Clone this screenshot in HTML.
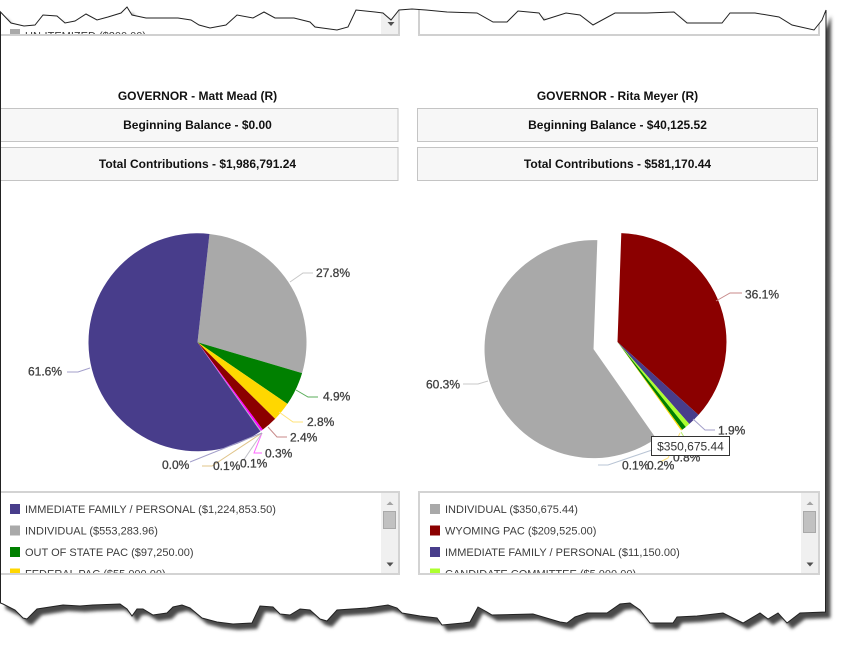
<!DOCTYPE html>
<html>
<head>
<meta charset="utf-8">
<style>
html,body{margin:0;padding:0;background:#fff;}
body{width:841px;height:648px;overflow:hidden;}
svg{display:block;font-family:"Liberation Sans",Arial,sans-serif;}
.t{font-size:12px;font-weight:bold;fill:#111;}
.lg{font-size:11px;fill:#3c3c3c;}
.pl{font-size:12px;fill:#404040;stroke:#404040;stroke-width:0.3px;}
</style>
</head>
<body>
<svg width="841" height="648" viewBox="0 0 841 648" xmlns="http://www.w3.org/2000/svg">
<defs>
<filter id="sh" x="-5%" y="-5%" width="110%" height="110%"><feGaussianBlur stdDeviation="1.6"/></filter>
<clipPath id="pg"><polygon id="pgp" points="0.5,12 11,23 24,26 35,25 43,15 57,16 65,23 75,21 86,14 97,20 108,17 121,13 127,7 132,15 146,18 162,18 178,18 191,20 199,25 210,28 226,25 237,15 253,18 264,12 275,18 294,18 310,22 315,27 337,30 348,27 356,10 375,12 383,13 391,20 399,10 412,9 426,10 447,12 477,13 493,22 507,22 518,11 539,13 544,20 566,13 580,15 593,25 615,13 647,13 674,12 687,23 722,23 730,13 755,13 779,17 792,25 814,30 822,20 826,10 825.5,612 800,613 787,623 778,613 768,619 760,613 743,623 723,613 697,616 677,617 673,623 650,623 640,610 630,603 620,604 607,613 587,613 575,617 567,623 560,622 533,614 492,615 487,612 478,607 470,622 463,623 442,625 437,618 420,616 402,613 397,608 388,605 367,608 337,610 327,621 320,619 310,610 300,609 290,615 280,614 273,607 260,606 252,623 233,624 217,622 202,618 190,608 182,605 173,607 167,613 153,615 143,609 137,609 132,616 127,609 120,604 93,605 80,606 63,605 37,609 27,619 23,618 15,610 3,604 0.5,603"/></clipPath>
<clipPath id="lb1"><rect x="0" y="493" width="398" height="80"/></clipPath>
<clipPath id="lb2"><rect x="420" y="493" width="398" height="80"/></clipPath>
<clipPath id="tb"><rect x="0" y="0" width="841" height="34"/></clipPath>
</defs>

<use href="#pgp" transform="translate(5,6)" fill="#4a4a4a" filter="url(#sh)"/>
<use href="#pgp" fill="#fff"/>

<g clip-path="url(#pg)">
  <g clip-path="url(#tb)">
    <rect x="10" y="29" width="10" height="10" fill="#a9a9a9"/>
    <text class="lg" x="25" y="39.5">UN-ITEMIZED ($200.00)</text>
  </g>
  <rect x="381" y="0" width="17" height="34" fill="#f0f0f0"/>
  <polygon points="387.5,22 394.5,22 391,26" fill="#505050"/>
  <path d="M0,35 H399 V0" fill="none" stroke="#d0d0d0" stroke-width="2"/>
  <path d="M419,0 V35 H819 V0" fill="none" stroke="#d0d0d0" stroke-width="2"/>

  <text class="t" x="197.5" y="100" text-anchor="middle">GOVERNOR - Matt Mead (R)</text>
  <text class="t" x="617.5" y="100" text-anchor="middle">GOVERNOR - Rita Meyer (R)</text>

  <rect x="-2" y="108.5" width="400" height="33" fill="#f7f7f7" stroke="#c4c4c4"/>
  <rect x="-2" y="147.5" width="400" height="33" fill="#f7f7f7" stroke="#c4c4c4"/>
  <rect x="417.5" y="108.5" width="400" height="33" fill="#f7f7f7" stroke="#c4c4c4"/>
  <rect x="417.5" y="147.5" width="400" height="33" fill="#f7f7f7" stroke="#c4c4c4"/>
  <text class="t" x="197.5" y="129" text-anchor="middle">Beginning Balance - $0.00</text>
  <text class="t" x="197.5" y="168" text-anchor="middle">Total Contributions - $1,986,791.24</text>
  <text class="t" x="617.5" y="129" text-anchor="middle">Beginning Balance - $40,125.52</text>
  <text class="t" x="617.5" y="168" text-anchor="middle">Total Contributions - $581,170.44</text>

  <!-- LEFT PIE -->
  <g>
    <path d="M197.5,342.3 L209.46,233.95 A109,109 0 0 1 302.07,373.07 Z" fill="#a9a9a9"/>
    <path d="M197.5,342.3 L302.07,373.07 A109,109 0 0 1 287.44,403.89 Z" fill="#008000"/>
    <path d="M197.5,342.3 L287.44,403.89 A109,109 0 0 1 275.11,418.84 Z" fill="#ffd700"/>
    <path d="M197.5,342.3 L275.11,418.84 A109,109 0 0 1 262.79,429.58 Z" fill="#8b0000"/>
    <path d="M197.5,342.3 L262.79,429.58 A109,109 0 0 1 261.10,430.82 Z" fill="#ff00ff"/>
    <path d="M197.5,342.3 L261.10,430.82 A109,109 0 0 1 260.33,431.36 Z" fill="#b0b8c8"/>
    <path d="M197.5,342.3 L260.33,431.36 A109,109 0 1 1 209.46,233.95 Z" fill="#483d8b"/>
  </g>
  <g fill="none" stroke-width="1">
    <polyline points="290,282 303,273 313,273" stroke="#c8c8c8"/>
    <polyline points="90,368 78,372 67,372" stroke="#a39fca"/>
    <polyline points="296,390 308,397 318,397" stroke="#5aad5a"/>
    <polyline points="279,412 293,422 303,422" stroke="#ffe37a"/>
    <polyline points="268,427 277,437 287,437" stroke="#c88a8a"/>
    <polyline points="262,433 254,453 262,453" stroke="#ff66ff"/>
    <polyline points="262,433 243,461" stroke="#c0c0c8"/>
    <polyline points="262,433 212,466 202,466" stroke="#e0c48a"/>
    <polyline points="262,433 190,462" stroke="#a39fca"/>
  </g>
  <text class="pl" x="316" y="277">27.8%</text>
  <text class="pl" x="28" y="375.5">61.6%</text>
  <text class="pl" x="323" y="400.5">4.9%</text>
  <text class="pl" x="307" y="426">2.8%</text>
  <text class="pl" x="290" y="441.5">2.4%</text>
  <text class="pl" x="265" y="457.5">0.3%</text>
  <text class="pl" x="162" y="469">0.0%</text>
  <text class="pl" x="213" y="470">0.1%</text>
  <text class="pl" x="240" y="467.5">0.1%</text>

  <!-- RIGHT PIE -->
  <g>
    <path d="M617.5,342 L621.30,233.07 A109,109 0 0 1 698.5,414.93 Z" fill="#8b0000"/>
    <path d="M617.5,342 L698.5,414.93 A109,109 0 0 1 689.30,424.01 Z" fill="#483d8b"/>
    <path d="M617.5,342 L689.30,424.01 A109,109 0 0 1 685.80,426.94 Z" fill="#adff2f"/>
    <path d="M617.5,342 L685.80,426.94 A109,109 0 0 1 682.18,429.73 Z" fill="#008000"/>
    <path d="M617.5,342 L682.18,429.73 A109,109 0 0 1 681.10,430.52 Z" fill="#ffd700"/>
    <path d="M593.53,349.10 L656.05,438.39 A109,109 0 1 1 597.33,240.17 Z" fill="#a9a9a9"/>
  </g>
  <g fill="none" stroke-width="1">
    <polyline points="716,301 730,293 742,293" stroke="#c88a8a"/>
    <polyline points="488,381 478,384 463,384" stroke="#c8c8c8"/>
    <polyline points="693,419 705,430 715,430" stroke="#a39fca"/>
    <polyline points="681,432 684,437 680,440" stroke="#b8f070"/>
    <polyline points="652,450 608,465 598,465" stroke="#b8c4d4"/>
    <polyline points="680,433 668,458 660,462" stroke="#ffe37a"/>
  </g>
  <text class="pl" x="745" y="298.5">36.1%</text>
  <text class="pl" x="426" y="388.5">60.3%</text>
  <text class="pl" x="718" y="434.5">1.9%</text>
  <text class="pl" x="622" y="469.5">0.1%</text>
  <text class="pl" x="647" y="469.5">0.2%</text>
  <text class="pl" x="673" y="461.5">0.8%</text>

  <rect x="651.5" y="436.5" width="78" height="19" fill="#fff" stroke="#333"/>
  <text x="690.5" y="450.5" text-anchor="middle" style="font-size:12px;fill:#333;">$350,675.44</text>

  <!-- LEFT LEGEND -->
  <rect x="-1" y="492" width="400" height="82" fill="#fff" stroke="#d3d3d3" stroke-width="2"/>
  <g clip-path="url(#lb1)">
    <rect x="10" y="504" width="10" height="10" fill="#483d8b"/>
    <text class="lg" x="25" y="513">IMMEDIATE FAMILY / PERSONAL ($1,224,853.50)</text>
    <rect x="10" y="525.5" width="10" height="10" fill="#a9a9a9"/>
    <text class="lg" x="25" y="534.5">INDIVIDUAL ($553,283.96)</text>
    <rect x="10" y="547" width="10" height="10" fill="#008000"/>
    <text class="lg" x="25" y="556">OUT OF STATE PAC ($97,250.00)</text>
    <rect x="10" y="568.5" width="10" height="10" fill="#ffd700"/>
    <text class="lg" x="25" y="577.5">FEDERAL PAC ($55,000.00)</text>
  </g>
  <rect x="381" y="493" width="17" height="80" fill="#f0f0f0"/>
  <polygon points="386.5,505 393.5,505 390,501.5" fill="#a3a3a3"/>
  <rect x="383.5" y="511.5" width="12" height="17" fill="#c1c1c1" stroke="#a9a9a9"/>
  <polygon points="386.5,562.5 393.5,562.5 390,566.5" fill="#505050"/>

  <!-- RIGHT LEGEND -->
  <rect x="419" y="492" width="400" height="82" fill="#fff" stroke="#d3d3d3" stroke-width="2"/>
  <g clip-path="url(#lb2)">
    <rect x="430" y="504" width="10" height="10" fill="#a9a9a9"/>
    <text class="lg" x="445" y="513">INDIVIDUAL ($350,675.44)</text>
    <rect x="430" y="525.5" width="10" height="10" fill="#8b0000"/>
    <text class="lg" x="445" y="534.5">WYOMING PAC ($209,525.00)</text>
    <rect x="430" y="547" width="10" height="10" fill="#483d8b"/>
    <text class="lg" x="445" y="556">IMMEDIATE FAMILY / PERSONAL ($11,150.00)</text>
    <rect x="430" y="568.5" width="10" height="10" fill="#adff2f"/>
    <text class="lg" x="445" y="577.5">CANDIDATE COMMITTEE ($5,000.00)</text>
  </g>
  <rect x="801" y="493" width="17" height="80" fill="#f0f0f0"/>
  <polygon points="806.5,505 813.5,505 810,501.5" fill="#a3a3a3"/>
  <rect x="803.5" y="511.5" width="12" height="21" fill="#c1c1c1" stroke="#a9a9a9"/>
  <polygon points="806.5,562.5 813.5,562.5 810,566.5" fill="#505050"/>
</g>

<use href="#pgp" fill="none" stroke="#222" stroke-width="1"/>
</svg>
</body>
</html>
